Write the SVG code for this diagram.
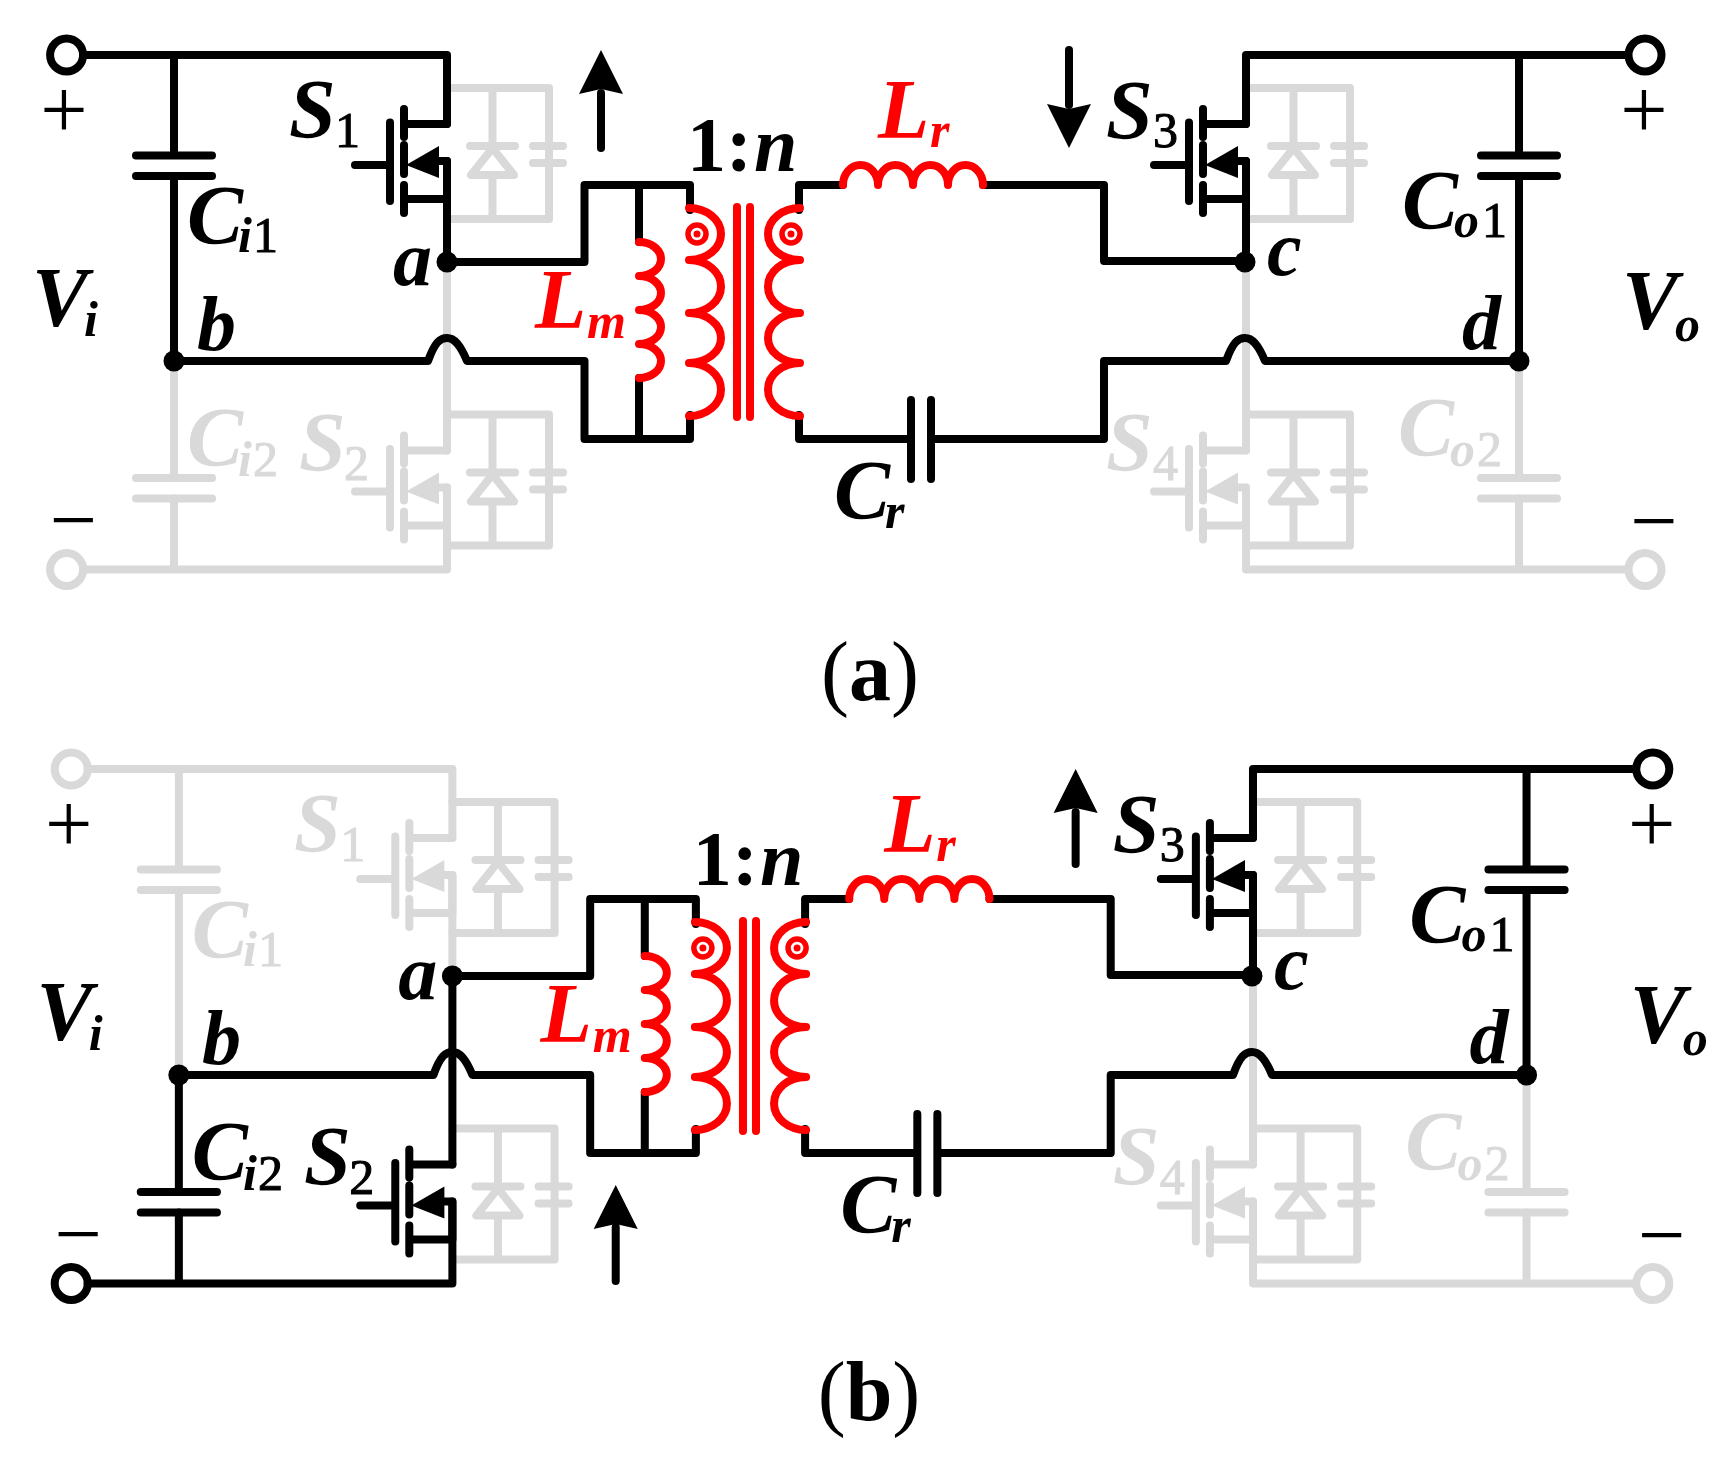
<svg xmlns="http://www.w3.org/2000/svg" width="1735" height="1473" viewBox="0 0 1735 1473">
<style>
.k{color:#000}.g{color:#d9d9d9}.r{color:#f00}
path,circle,polygon{fill:none;stroke:currentColor;stroke-width:8;stroke-linecap:round;stroke-linejoin:round}
.f{fill:currentColor;stroke:none}
.t{font-family:"Liberation Serif",serif;font-style:italic;font-weight:700;font-size:78px;fill:currentColor}
.c{font-size:84px}
.s{font-size:50px}
.d{font-family:"Liberation Serif",serif;font-style:normal;font-weight:400;font-size:50px;fill:currentColor;stroke:currentColor;stroke-width:1}
.o{font-family:"Liberation Serif",serif;font-style:normal;font-weight:400;font-size:84px;fill:#000}
.bd{font-weight:700}
</style>
<defs>
<g id="fet">
<path d="M0,124H-43M-43,109V137M-43,145V174M-43,185V213M-57,122.5V201M-92,165H-57M-9,161H0V199H-43"/>
<polygon class="f" points="-41,165 -8,146 -8,178"/>
</g>
<g id="anti">
<path d="M0,88H102V219H0M45.5,88V146M45.5,175V219M23,146H68M45.5,148L24,175H67ZM102,88V146M102,163V219M86,146H116M86,163H116"/>
</g>
<g id="capv"><path d="M-38,0H38M-38,20.500H38"/></g>
<g id="term"><circle r="16.500"/></g>
<g id="dot"><circle class="f" r="10.500"/></g>
<g id="tf">
<path d="M639,242A22,17 0 0 1 639,276A22,17 0 0 1 639,310A22,17 0 0 1 639,344A22,17 0 0 1 639,378"/>
<path d="M689,208A32,26 0 0 1 689,260A32,26.500 0 0 1 689,313A32,25 0 0 1 689,363A32,26.500 0 0 1 689,416"/>
<path d="M800,208A32,26 0 0 0 800,260A32,26.500 0 0 0 800,313A32,25 0 0 0 800,363A32,26.500 0 0 0 800,416"/>
<path d="M737,207V417M750,207V417"/>
<circle cx="697" cy="234" r="9" style="stroke-width:5.500"/><circle class="f" cx="697" cy="234" r="3.500"/>
<circle cx="791" cy="234" r="9" style="stroke-width:5.500"/><circle class="f" cx="791" cy="234" r="3.500"/>
</g>
<g id="lr"><path d="M843,185A17.500,20 0 0 1 878,185A17.500,20 0 0 1 913,185A17.500,20 0 0 1 948,185A17.500,20 0 0 1 983,185"/></g>
<path id="mid" d="M447,262H584.500V185H690V210M174,361H428C435,342 440,338 447,338C454,338 460,344 467,361H584.500V439H690V415M639,185V242M639,378V439M799,210V185H843M983,185H1104V261H1245M799,415V439H911M911,400V479M931,400V479M931,439H1104V361H1226C1233,342 1238,338 1245,338C1252,338 1258,344 1265,361H1519"/>
</defs>

<g id="panel-a">
<g id="a-antiparallel" class="g">
<use href="#anti" x="447"/><use href="#anti" x="447" y="326.500"/><use href="#anti" x="1248"/><use href="#anti" x="1248" y="326.500"/>
</g>
<g id="a-connectors">
<path class="g" d="M447,262V450.500M447,487.500V569.500H83M174,361V478M174,498.500V569.500M1246,262V450.500M1246,487.500V569.500H1628M1519,361V478M1519,498.500V569.500"/>
<use class="k" href="#mid"/>
<path class="k" d="M83,55H447V124M174,55V155M174,176V361M447,161V262M1246,124V55H1628M1246,161V262M1519,55V155M1519,176V361"/>
</g>
<g id="a-Vin-p" class="k"><use href="#term" x="66.600" y="55"/><text class="o" x="64" y="138" text-anchor="middle">+</text></g>
<g id="a-Vin-n" class="g"><use href="#term" x="66.600" y="569.500"/><text class="o" x="73.500" y="548" text-anchor="middle">−</text></g>
<g id="a-Vi" class="k"><text class="t c" x="32" y="326">V</text><text class="t s" x="84" y="336">i</text></g>
<g id="a-Ci1" class="k"><use href="#capv" x="174" y="155.500"/><text class="t c" x="187" y="244">C</text><text class="t s" x="238" y="252">i</text><text class="d" x="253" y="252">1</text></g>
<g id="a-Ci2" class="g"><use href="#capv" x="174" y="478"/><text class="t c" x="187" y="466">C</text><text class="t s" x="238" y="476">i</text><text class="d" x="253" y="476">2</text></g>
<g id="a-S1" class="k"><use href="#fet" x="447"/><text class="t c" x="289" y="138">S</text><text class="d" x="335" y="147">1</text></g>
<g id="a-S2" class="g"><use href="#fet" x="447" y="326.500"/><text class="t c" x="299" y="471">S</text><text class="d" x="344" y="480">2</text></g>
<g id="a-nodeA" class="k"><use href="#dot" x="447" y="262"/><text class="t" x="393" y="285">a</text></g>
<g id="a-nodeB" class="k"><use href="#dot" x="174" y="361"/><text class="t" x="197" y="350">b</text></g>
<g id="a-transformer" class="r"><use href="#tf"/><text class="t c" x="535" y="328">L</text><text class="t s" x="587" y="338">m</text></g>
<g id="a-ratio" class="k"><text class="t" x="687" y="171"><tspan font-style="normal">1:</tspan><tspan dx="2">n</tspan></text></g>
<g id="a-Lr" class="r"><use href="#lr"/><text class="t c" x="878" y="138">L</text><text class="t s" x="930" y="147">r</text></g>
<g id="a-Cr" class="k"><text class="t c" x="834" y="519">C</text><text class="t s" x="885" y="528">r</text></g>
<g id="a-S3" class="k"><use href="#fet" x="1246"/><text class="t c" x="1106" y="139">S</text><text class="d" x="1153" y="147">3</text></g>
<g id="a-S4" class="g"><use href="#fet" x="1246" y="326.500"/><text class="t c" x="1106" y="471">S</text><text class="d" x="1153" y="480">4</text></g>
<g id="a-nodeC" class="k"><use href="#dot" x="1245" y="262"/><text class="t" x="1267" y="275">c</text></g>
<g id="a-nodeD" class="k"><use href="#dot" x="1519" y="361"/><text class="t" x="1462" y="349">d</text></g>
<g id="a-Co1" class="k"><use href="#capv" x="1519" y="155.500"/><text class="t c" x="1402" y="229">C</text><text class="t s" x="1454" y="237">o</text><text class="d" x="1482" y="237">1</text></g>
<g id="a-Co2" class="g"><use href="#capv" x="1519" y="478"/><text class="t c" x="1398" y="456">C</text><text class="t s" x="1450" y="466">o</text><text class="d" x="1477" y="466">2</text></g>
<g id="a-Vout-p" class="k"><use href="#term" x="1645" y="55"/><text class="o" x="1644" y="138" text-anchor="middle">+</text></g>
<g id="a-Vout-n" class="g"><use href="#term" x="1645" y="569.500"/><text class="o" x="1654" y="549" text-anchor="middle">−</text></g>
<g id="a-Vo" class="k"><text class="t c" x="1622" y="329">V</text><text class="t s" x="1675" y="341">o</text></g>
<g id="a-arrow1" class="k"><path d="M601,93V148"/><polygon class="f" points="601,50 579,94 601,89 623,94"/></g>
<g id="a-arrow2" class="k"><path d="M1069,50V105"/><polygon class="f" points="1069,148 1047,104 1069,109 1091,104"/></g>
</g>
<g id="caption-a"><text class="o" x="870" y="700" text-anchor="middle">(<tspan class="bd">a</tspan>)</text></g>

<g id="panel-b" transform="translate(4.500,714) scale(1.002,1)">
<g id="b-antiparallel" class="g">
<use href="#anti" x="447"/><use href="#anti" x="447" y="326.500"/><use href="#anti" x="1248"/><use href="#anti" x="1248" y="326.500"/>
</g>
<g id="b-connectors">
<path class="g" d="M83,55H447V124M174,55V155M174,176V361M447,161V262M1246,262V450.500M1246,487.500V569.500H1628M1519,361V478M1519,498.500V569.500"/>
<use class="k" href="#mid"/>
<path class="k" d="M447,262V450.500M447,487.500V569.500H83M174,361V478M174,498.500V569.500M1246,124V55H1628M1246,161V262M1519,55V155M1519,176V361"/>
</g>
<g id="b-Vin-p" class="g"><use href="#term" x="66.600" y="55"/><text class="o" x="64" y="138" text-anchor="middle">+</text></g>
<g id="b-Vin-n" class="k"><use href="#term" x="66.600" y="569.500"/><text class="o" x="73.500" y="548" text-anchor="middle">−</text></g>
<g id="b-Vi" class="k"><text class="t c" x="32" y="326">V</text><text class="t s" x="84" y="336">i</text></g>
<g id="b-Ci1" class="g"><use href="#capv" x="174" y="155.500"/><text class="t c" x="187" y="244">C</text><text class="t s" x="238" y="252">i</text><text class="d" x="253" y="252">1</text></g>
<g id="b-Ci2" class="k"><use href="#capv" x="174" y="478"/><text class="t c" x="187" y="466">C</text><text class="t s" x="238" y="476">i</text><text class="d" x="253" y="476">2</text></g>
<g id="b-S1" class="g"><use href="#fet" x="447"/><text class="t c" x="289" y="138">S</text><text class="d" x="335" y="147">1</text></g>
<g id="b-S2" class="k"><use href="#fet" x="447" y="326.500"/><text class="t c" x="299" y="471">S</text><text class="d" x="344" y="480">2</text></g>
<g id="b-nodeA" class="k"><use href="#dot" x="447" y="262"/><text class="t" x="393" y="285">a</text></g>
<g id="b-nodeB" class="k"><use href="#dot" x="174" y="361"/><text class="t" x="197" y="350">b</text></g>
<g id="b-transformer" class="r"><use href="#tf"/><text class="t c" x="535" y="328">L</text><text class="t s" x="587" y="338">m</text></g>
<g id="b-ratio" class="k"><text class="t" x="687" y="171"><tspan font-style="normal">1:</tspan><tspan dx="2">n</tspan></text></g>
<g id="b-Lr" class="r"><use href="#lr"/><text class="t c" x="878" y="138">L</text><text class="t s" x="930" y="147">r</text></g>
<g id="b-Cr" class="k"><text class="t c" x="834" y="519">C</text><text class="t s" x="885" y="528">r</text></g>
<g id="b-S3" class="k"><use href="#fet" x="1246"/><text class="t c" x="1106" y="139">S</text><text class="d" x="1153" y="147">3</text></g>
<g id="b-S4" class="g"><use href="#fet" x="1246" y="326.500"/><text class="t c" x="1106" y="471">S</text><text class="d" x="1153" y="480">4</text></g>
<g id="b-nodeC" class="k"><use href="#dot" x="1245" y="262"/><text class="t" x="1267" y="275">c</text></g>
<g id="b-nodeD" class="k"><use href="#dot" x="1519" y="361"/><text class="t" x="1462" y="349">d</text></g>
<g id="b-Co1" class="k"><use href="#capv" x="1519" y="155.500"/><text class="t c" x="1402" y="229">C</text><text class="t s" x="1454" y="237">o</text><text class="d" x="1482" y="237">1</text></g>
<g id="b-Co2" class="g"><use href="#capv" x="1519" y="478"/><text class="t c" x="1398" y="456">C</text><text class="t s" x="1450" y="466">o</text><text class="d" x="1477" y="466">2</text></g>
<g id="b-Vout-p" class="k"><use href="#term" x="1645" y="55"/><text class="o" x="1644" y="138" text-anchor="middle">+</text></g>
<g id="b-Vout-n" class="g"><use href="#term" x="1645" y="569.500"/><text class="o" x="1654" y="549" text-anchor="middle">−</text></g>
<g id="b-Vo" class="k"><text class="t c" x="1622" y="329">V</text><text class="t s" x="1675" y="341">o</text></g>
<g id="b-arrow1" class="k"><path d="M1069,98V150"/><polygon class="f" points="1069,55 1047,99 1069,94 1091,99"/></g>
<g id="b-arrow2" class="k"><path d="M610,513V567"/><polygon class="f" points="610,471 588,515 610,510 632,515"/></g>
</g>
<g id="caption-b"><text class="o" x="869" y="1420" text-anchor="middle">(<tspan class="bd">b</tspan>)</text></g>
</svg>
